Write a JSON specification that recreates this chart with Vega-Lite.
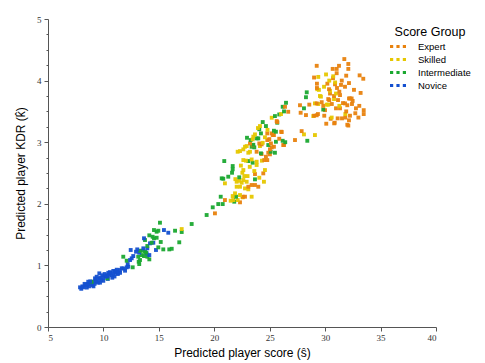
{
  "$schema": "https://vega.github.io/schema/vega-lite/v6.json",
  "width": 388,
  "height": 308,
  "autosize": {"type": "none"},
  "padding": {"left": 48, "top": 19, "right": 49, "bottom": 36},
  "background": "white",
  "config": {"view": {"stroke": null}},
  "datasets": {
    "pts": [
      {"g":"Novice","s":7.89,"k":0.644},{"g":"Novice","s":8.18,"k":0.644},{"g":"Novice","s":8.49,"k":0.682},{"g":"Novice","s":8.79,"k":0.698},{"g":"Novice","s":8.63,"k":0.735},{"g":"Novice","s":9.09,"k":0.735},{"g":"Novice","s":9.24,"k":0.79},{"g":"Novice","s":9.39,"k":0.816},{"g":"Novice","s":9.63,"k":0.871},
      {"g":"Novice","s":8.1,"k":0.66},{"g":"Novice","s":8.3,"k":0.70},{"g":"Novice","s":8.5,"k":0.64},{"g":"Novice","s":8.7,"k":0.66},{"g":"Novice","s":8.9,"k":0.72},{"g":"Novice","s":9.0,"k":0.68},{"g":"Novice","s":9.2,"k":0.70},{"g":"Novice","s":9.4,"k":0.74},{"g":"Novice","s":9.5,"k":0.72},{"g":"Novice","s":9.6,"k":0.78},{"g":"Novice","s":9.8,"k":0.76},{"g":"Novice","s":10.0,"k":0.80},{"g":"Novice","s":10.2,"k":0.82},{"g":"Novice","s":10.4,"k":0.78},{"g":"Novice","s":10.5,"k":0.85},{"g":"Novice","s":10.7,"k":0.84},{"g":"Novice","s":10.9,"k":0.86},{"g":"Novice","s":11.0,"k":0.82},{"g":"Novice","s":11.1,"k":0.88},{"g":"Novice","s":11.3,"k":0.86},{"g":"Novice","s":9.9,"k":0.84},{"g":"Novice","s":10.1,"k":0.86},{"g":"Novice","s":10.6,"k":0.88},{"g":"Novice","s":8.4,"k":0.68},{"g":"Novice","s":8.8,"k":0.74},{"g":"Novice","s":9.3,"k":0.76},{"g":"Novice","s":9.7,"k":0.80},{"g":"Novice","s":10.3,"k":0.84},{"g":"Novice","s":11.2,"k":0.90},{"g":"Novice","s":8.0,"k":0.62},{"g":"Novice","s":8.6,"k":0.70},{"g":"Novice","s":9.1,"k":0.66},{"g":"Novice","s":10.8,"k":0.80},{"g":"Novice","s":11.5,"k":0.88},
      {"g":"Novice","s":10.44,"k":0.88},{"g":"Novice","s":10.59,"k":0.89},{"g":"Novice","s":10.89,"k":0.91},{"g":"Novice","s":11.04,"k":0.90},{"g":"Novice","s":9.69,"k":0.72},{"g":"Novice","s":9.99,"k":0.75},{"g":"Novice","s":10.35,"k":0.82},
      {"g":"Novice","s":11.34,"k":0.881},{"g":"Novice","s":11.49,"k":0.925},{"g":"Novice","s":11.65,"k":0.953},{"g":"Novice","s":11.95,"k":0.914},{"g":"Novice","s":12.10,"k":0.969},{"g":"Novice","s":12.19,"k":1.022},{"g":"Novice","s":12.24,"k":0.979},{"g":"Novice","s":12.40,"k":1.087},{"g":"Novice","s":12.55,"k":1.115},{"g":"Novice","s":12.69,"k":1.152},{"g":"Novice","s":12.46,"k":1.25},{"g":"Novice","s":13.05,"k":1.26},{"g":"Novice","s":12.94,"k":1.222},{"g":"Novice","s":13.23,"k":1.206},{"g":"Novice","s":13.60,"k":1.277},{"g":"Novice","s":13.66,"k":1.44},{"g":"Novice","s":13.96,"k":1.277},{"g":"Novice","s":13.90,"k":1.196},{"g":"Novice","s":14.20,"k":1.358},{"g":"Novice","s":14.14,"k":1.168},{"g":"Novice","s":14.50,"k":1.368},{"g":"Novice","s":14.74,"k":1.25},{"g":"Novice","s":15.46,"k":1.574},{"g":"Novice","s":15.85,"k":1.53},{"g":"Novice","s":11.8,"k":0.95},{"g":"Novice","s":11.2,"k":0.93},

      {"g":"Intermediate","s":28.34,"k":3.81},{"g":"Intermediate","s":28.27,"k":3.73},{"g":"Intermediate","s":26.47,"k":3.64},{"g":"Intermediate","s":26.17,"k":3.575},{"g":"Intermediate","s":26.29,"k":3.50},{"g":"Intermediate","s":28.09,"k":3.55},{"g":"Intermediate","s":26.17,"k":3.023},{"g":"Intermediate","s":26.40,"k":3.0},{"g":"Intermediate","s":28.39,"k":3.023},{"g":"Intermediate","s":29.83,"k":3.53},{"g":"Intermediate","s":25.47,"k":3.424},{"g":"Intermediate","s":25.68,"k":3.316},{"g":"Intermediate","s":25.38,"k":3.186},{"g":"Intermediate","s":25.56,"k":3.17},{"g":"Intermediate","s":25.56,"k":3.007},
      {"g":"Intermediate","s":25.86,"k":3.45},{"g":"Intermediate","s":24.37,"k":3.327},{"g":"Intermediate","s":24.66,"k":3.262},{"g":"Intermediate","s":24.06,"k":3.21},{"g":"Intermediate","s":24.21,"k":3.143},{"g":"Intermediate","s":23.82,"k":3.062},{"g":"Intermediate","s":23.97,"k":3.062},{"g":"Intermediate","s":22.95,"k":3.072},{"g":"Intermediate","s":23.28,"k":3.035},{"g":"Intermediate","s":23.52,"k":2.958},{"g":"Intermediate","s":23.37,"k":2.926},{"g":"Intermediate","s":23.61,"k":2.916},{"g":"Intermediate","s":24.21,"k":2.819},{"g":"Intermediate","s":24.87,"k":2.954},{"g":"Intermediate","s":25.09,"k":2.845},{"g":"Intermediate","s":25.47,"k":2.829},{"g":"Intermediate","s":20.90,"k":2.694},{"g":"Intermediate","s":21.66,"k":2.613},{"g":"Intermediate","s":21.66,"k":2.56},{"g":"Intermediate","s":21.60,"k":2.504},{"g":"Intermediate","s":20.67,"k":2.413},{"g":"Intermediate","s":20.81,"k":2.407},{"g":"Intermediate","s":21.26,"k":2.44},{"g":"Intermediate","s":23.46,"k":2.667},{"g":"Intermediate","s":23.07,"k":2.694},{"g":"Intermediate","s":23.67,"k":2.397},{"g":"Intermediate","s":22.25,"k":2.43},{"g":"Intermediate","s":20.58,"k":2.115},{"g":"Intermediate","s":20.76,"k":1.996},{"g":"Intermediate","s":20.36,"k":1.996},{"g":"Intermediate","s":19.86,"k":1.943},{"g":"Intermediate","s":19.31,"k":1.818},{"g":"Intermediate","s":21.96,"k":2.115},{"g":"Intermediate","s":21.80,"k":2.034},
      {"g":"Intermediate","s":15.10,"k":1.693},{"g":"Intermediate","s":14.56,"k":1.574},{"g":"Intermediate","s":14.80,"k":1.547},{"g":"Intermediate","s":14.95,"k":1.563},{"g":"Intermediate","s":14.14,"k":1.488},{"g":"Intermediate","s":14.44,"k":1.465},{"g":"Intermediate","s":13.75,"k":1.412},{"g":"Intermediate","s":14.56,"k":1.44},{"g":"Intermediate","s":14.80,"k":1.449},{"g":"Intermediate","s":14.35,"k":1.368},{"g":"Intermediate","s":15.17,"k":1.38},{"g":"Intermediate","s":13.96,"k":1.315},{"g":"Intermediate","s":14.95,"k":1.293},{"g":"Intermediate","s":15.40,"k":1.26},{"g":"Intermediate","s":15.94,"k":1.26},{"g":"Intermediate","s":16.16,"k":1.27},{"g":"Intermediate","s":13.30,"k":1.238},{"g":"Intermediate","s":13.54,"k":1.238},{"g":"Intermediate","s":13.75,"k":1.222},{"g":"Intermediate","s":13.84,"k":1.206},{"g":"Intermediate","s":13.45,"k":1.168},{"g":"Intermediate","s":13.66,"k":1.152},{"g":"Intermediate","s":13.96,"k":1.141},{"g":"Intermediate","s":14.14,"k":1.098},{"g":"Intermediate","s":13.14,"k":1.141},{"g":"Intermediate","s":13.30,"k":1.087},{"g":"Intermediate","s":13.18,"k":1.06},{"g":"Intermediate","s":13.23,"k":1.022},{"g":"Intermediate","s":11.79,"k":1.141},{"g":"Intermediate","s":12.10,"k":1.076},{"g":"Intermediate","s":12.64,"k":0.969},{"g":"Intermediate","s":10.35,"k":0.79},{"g":"Intermediate","s":8.94,"k":0.735},{"g":"Intermediate","s":16.46,"k":1.563},{"g":"Intermediate","s":16.84,"k":1.375},{"g":"Intermediate","s":17.06,"k":1.542},{"g":"Intermediate","s":17.96,"k":1.672},

      {"g":"Skilled","s":30.08,"k":4.10},{"g":"Skilled","s":29.38,"k":4.06},{"g":"Skilled","s":30.37,"k":4.0},{"g":"Skilled","s":29.29,"k":3.86},{"g":"Skilled","s":29.44,"k":3.85},{"g":"Skilled","s":30.73,"k":4.07},{"g":"Skilled","s":29.62,"k":3.74},{"g":"Skilled","s":29.08,"k":3.63},{"g":"Skilled","s":29.38,"k":3.62},{"g":"Skilled","s":30.14,"k":3.61},{"g":"Skilled","s":31.28,"k":3.59},{"g":"Skilled","s":30.80,"k":3.70},{"g":"Skilled","s":31.82,"k":3.457},{"g":"Skilled","s":30.59,"k":3.40},{"g":"Skilled","s":28.93,"k":3.424},{"g":"Skilled","s":28.09,"k":3.127},{"g":"Skilled","s":29.08,"k":3.116},
      {"g":"Skilled","s":30.44,"k":3.835},{"g":"Skilled","s":30.98,"k":3.79},{"g":"Skilled","s":29.53,"k":3.75},{"g":"Skilled","s":30.28,"k":3.61},{"g":"Skilled","s":26.02,"k":3.457},{"g":"Skilled","s":25.18,"k":3.397},
      {"g":"Skilled","s":24.12,"k":3.262},{"g":"Skilled","s":23.67,"k":3.127},{"g":"Skilled","s":23.52,"k":3.09},{"g":"Skilled","s":23.46,"k":3.046},{"g":"Skilled","s":24.37,"k":2.99},{"g":"Skilled","s":24.12,"k":2.937},{"g":"Skilled","s":22.77,"k":2.926},{"g":"Skilled","s":22.92,"k":2.937},{"g":"Skilled","s":22.11,"k":2.845},{"g":"Skilled","s":22.32,"k":2.856},{"g":"Skilled","s":22.62,"k":2.884},{"g":"Skilled","s":23.07,"k":2.829},{"g":"Skilled","s":23.22,"k":2.845},{"g":"Skilled","s":22.62,"k":2.71},{"g":"Skilled","s":22.86,"k":2.70},{"g":"Skilled","s":23.37,"k":2.72},{"g":"Skilled","s":23.82,"k":2.683},{"g":"Skilled","s":23.82,"k":2.63},{"g":"Skilled","s":22.62,"k":2.548},{"g":"Skilled","s":22.53,"k":2.504},{"g":"Skilled","s":22.71,"k":2.45},{"g":"Skilled","s":23.61,"k":2.532},{"g":"Skilled","s":24.57,"k":2.548},{"g":"Skilled","s":24.06,"k":2.423},{"g":"Skilled","s":24.48,"k":2.358},{"g":"Skilled","s":22.02,"k":2.358},{"g":"Skilled","s":22.25,"k":2.374},{"g":"Skilled","s":22.47,"k":2.342},{"g":"Skilled","s":22.62,"k":2.386},{"g":"Skilled","s":22.92,"k":2.358},{"g":"Skilled","s":22.02,"k":2.277},{"g":"Skilled","s":22.32,"k":2.277},{"g":"Skilled","s":22.77,"k":2.25},{"g":"Skilled","s":23.07,"k":2.235},{"g":"Skilled","s":20.96,"k":2.332},{"g":"Skilled","s":21.87,"k":2.17},{"g":"Skilled","s":21.66,"k":2.126},{"g":"Skilled","s":22.32,"k":2.142},{"g":"Skilled","s":22.56,"k":2.105},{"g":"Skilled","s":23.37,"k":2.115},{"g":"Skilled","s":21.48,"k":2.05},{"g":"Skilled","s":21.71,"k":2.061},{"g":"Skilled","s":22.11,"k":2.061},{"g":"Skilled","s":17.06,"k":1.59},{"g":"Skilled","s":23.94,"k":3.23},{"g":"Skilled","s":24.57,"k":3.08},
      {"g":"Skilled","s":23.2,"k":2.60},{"g":"Skilled","s":22.4,"k":2.62},{"g":"Skilled","s":24.3,"k":2.70},{"g":"Skilled","s":23.0,"k":2.45},{"g":"Skilled","s":21.9,"k":2.40},{"g":"Skilled","s":24.8,"k":3.20},{"g":"Skilled","s":30.9,"k":3.97},{"g":"Skilled","s":29.9,"k":3.90},

      {"g":"Expert","s":31.73,"k":4.35},{"g":"Expert","s":32.09,"k":4.27},{"g":"Expert","s":29.24,"k":4.24},{"g":"Expert","s":30.68,"k":4.19},{"g":"Expert","s":31.04,"k":4.19},{"g":"Expert","s":31.25,"k":4.24},{"g":"Expert","s":32.09,"k":4.19},{"g":"Expert","s":31.04,"k":4.12},{"g":"Expert","s":29.0,"k":4.05},{"g":"Expert","s":33.11,"k":4.085},{"g":"Expert","s":33.44,"k":4.03},{"g":"Expert","s":32.15,"k":3.96},{"g":"Expert","s":31.79,"k":3.90},{"g":"Expert","s":33.20,"k":3.80},{"g":"Expert","s":30.35,"k":3.86},{"g":"Expert","s":29.26,"k":3.95},{"g":"Expert","s":29.26,"k":3.88},{"g":"Expert","s":32.39,"k":3.71},{"g":"Expert","s":32.48,"k":3.67},{"g":"Expert","s":32.15,"k":3.71},{"g":"Expert","s":33.08,"k":3.59},{"g":"Expert","s":33.48,"k":3.52},{"g":"Expert","s":33.48,"k":3.457},{"g":"Expert","s":32.72,"k":3.47},{"g":"Expert","s":32.24,"k":3.43},{"g":"Expert","s":31.82,"k":3.40},{"g":"Expert","s":32.15,"k":3.355},{"g":"Expert","s":31.52,"k":3.387},{"g":"Expert","s":31.13,"k":3.387},{"g":"Expert","s":30.86,"k":3.316},{"g":"Expert","s":30.50,"k":3.38},{"g":"Expert","s":29.92,"k":3.43},{"g":"Expert","s":29.35,"k":3.457},{"g":"Expert","s":29.0,"k":3.43},{"g":"Expert","s":28.27,"k":3.44},{"g":"Expert","s":27.79,"k":3.478},{"g":"Expert","s":27.73,"k":3.60},{"g":"Expert","s":28.57,"k":3.61},{"g":"Expert","s":29.69,"k":3.65},{"g":"Expert","s":29.99,"k":3.52},{"g":"Expert","s":30.28,"k":3.70},{"g":"Expert","s":30.44,"k":3.79},{"g":"Expert","s":31.28,"k":3.82},{"g":"Expert","s":31.34,"k":3.765},{"g":"Expert","s":32.09,"k":3.27},{"g":"Expert","s":26.04,"k":3.17},{"g":"Expert","s":27.88,"k":3.18},{"g":"Expert","s":27.28,"k":3.035},{"g":"Expert","s":26.22,"k":2.954},
      {"g":"Expert","s":30.71,"k":4.04},{"g":"Expert","s":30.89,"k":3.94},{"g":"Expert","s":31.07,"k":3.88},{"g":"Expert","s":30.80,"k":3.75},{"g":"Expert","s":31.16,"k":3.684},{"g":"Expert","s":31.43,"k":3.93},{"g":"Expert","s":30.98,"k":3.55},{"g":"Expert","s":31.61,"k":3.635},{"g":"Expert","s":32.42,"k":3.62},{"g":"Expert","s":32.78,"k":3.55},
      {"g":"Expert","s":32.24,"k":3.71},{"g":"Expert","s":29.24,"k":3.63},{"g":"Expert","s":29.83,"k":3.59},{"g":"Expert","s":30.37,"k":3.684},{"g":"Expert","s":31.34,"k":3.55},{"g":"Expert","s":31.79,"k":3.63},{"g":"Expert","s":32.0,"k":3.60},{"g":"Expert","s":32.0,"k":3.283},{"g":"Expert","s":30.82,"k":3.306},{"g":"Expert","s":29.24,"k":3.437},{"g":"Expert","s":26.67,"k":3.494},{"g":"Expert","s":25.63,"k":3.343},{"g":"Expert","s":25.18,"k":3.143},{"g":"Expert","s":25.38,"k":3.116},{"g":"Expert","s":26.08,"k":3.165},{"g":"Expert","s":25.86,"k":3.056},{"g":"Expert","s":25.38,"k":2.926},{"g":"Expert","s":25.18,"k":2.916},{"g":"Expert","s":26.29,"k":2.954},{"g":"Expert","s":26.38,"k":3.575},
      {"g":"Expert","s":25.68,"k":3.327},{"g":"Expert","s":25.27,"k":3.116},{"g":"Expert","s":24.78,"k":3.143},{"g":"Expert","s":24.96,"k":3.05},{"g":"Expert","s":24.78,"k":3.035},{"g":"Expert","s":24.27,"k":2.965},{"g":"Expert","s":25.11,"k":2.98},{"g":"Expert","s":25.02,"k":2.884},{"g":"Expert","s":24.87,"k":2.829},{"g":"Expert","s":25.02,"k":2.803},{"g":"Expert","s":24.66,"k":2.764},{"g":"Expert","s":24.78,"k":2.71},{"g":"Expert","s":24.51,"k":2.71},{"g":"Expert","s":24.06,"k":2.98},{"g":"Expert","s":23.22,"k":2.98},{"g":"Expert","s":23.46,"k":2.95},{"g":"Expert","s":23.82,"k":2.845},{"g":"Expert","s":24.27,"k":2.808},{"g":"Expert","s":24.42,"k":2.494},{"g":"Expert","s":23.67,"k":2.483},{"g":"Expert","s":23.37,"k":2.305},{"g":"Expert","s":23.67,"k":2.305},{"g":"Expert","s":23.97,"k":2.277},{"g":"Expert","s":23.07,"k":2.277},{"g":"Expert","s":22.56,"k":2.115},{"g":"Expert","s":22.77,"k":2.115},{"g":"Expert","s":20.96,"k":2.061},{"g":"Expert","s":22.32,"k":2.024},{"g":"Expert","s":20.06,"k":1.845},
      {"g":"Expert","s":31.5,"k":4.00},{"g":"Expert","s":32.6,"k":3.85},{"g":"Expert","s":30.2,"k":3.95},{"g":"Expert","s":31.9,"k":4.08},{"g":"Expert","s":30.6,"k":3.62},{"g":"Expert","s":31.9,"k":3.50},{"g":"Expert","s":33.0,"k":3.40},{"g":"Expert","s":30.1,"k":3.30}
    ]
  },
  "data": {"name": "pts"},
  "mark": {"type": "square", "size": 15, "opacity": 0.95, "strokeWidth": 0},
  "encoding": {
    "x": {
      "field": "s", "type": "quantitative",
      "scale": {"domain": [5, 40], "nice": false, "zero": false},
      "axis": {
        "title": "Predicted player score (ŝ)",
        "values": [5, 10, 15, 20, 25, 30, 35, 40],
        "grid": false, "domainColor": "#555", "tickColor": "#555", "tickSize": 4,
        "labelFont": "Liberation Serif", "labelFontSize": 9, "labelColor": "#333", "labelPadding": 2,
        "titleFont": "Liberation Sans", "titleFontSize": 12, "titleFontWeight": "normal", "titleColor": "#000", "titlePadding": 5
      }
    },
    "y": {
      "field": "k", "type": "quantitative",
      "scale": {"domain": [0, 5], "nice": false},
      "axis": {
        "title": "Predicted player KDR (k̂)",
        "values": [0, 0.25, 0.5, 0.75, 1, 1.25, 1.5, 1.75, 2, 2.25, 2.5, 2.75, 3, 3.25, 3.5, 3.75, 4, 4.25, 4.5, 4.75, 5],
        "labelExpr": "datum.value % 1 === 0 ? format(datum.value, 'd') : ''",
        "tickSize": {"condition": {"test": "datum.value % 1 === 0", "value": 4}, "value": 2},
        "grid": false, "domainColor": "#555", "tickColor": "#555",
        "labelFont": "Liberation Serif", "labelFontSize": 9, "labelColor": "#333", "labelPadding": 3,
        "titleFont": "Liberation Sans", "titleFontSize": 12, "titleFontWeight": "normal", "titleColor": "#000", "titlePadding": 9
      }
    },
    "color": {
      "field": "g", "type": "nominal",
      "scale": {"domain": ["Expert", "Skilled", "Intermediate", "Novice"], "range": ["#E8820E", "#E6C700", "#1AA830", "#1450D0"]},
      "legend": {
        "title": "Score Group", "orient": "none", "legendX": 342, "legendY": 7,
        "titleFont": "Liberation Sans", "titleFontSize": 12.5, "titleFontWeight": "normal", "titleColor": "#000", "titleAnchor": "middle", "titlePadding": 0,
        "labelFont": "Liberation Sans", "labelFontSize": 9.5, "labelColor": "#000", "labelOffset": 12,
        "symbolType": "M-1,-0.2h0.4v0.4h-0.4z M-0.2,-0.2h0.4v0.4h-0.4z M0.6,-0.2h0.4v0.4h-0.4z",
        "symbolSize": 256, "symbolStrokeWidth": 0, "symbolOpacity": 1, "rowPadding": -0.7
      }
    },
    "order": {"field": "k", "type": "quantitative"}
  }
}
